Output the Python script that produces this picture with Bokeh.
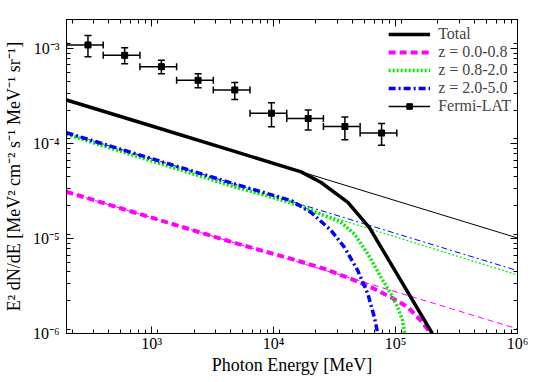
import math
from bokeh.plotting import figure
from bokeh.models import (LogAxis, LogTicker, CustomJSTickFormatter, Legend,
                          LegendItem, Range1d)
from bokeh.embed import file_html
from bokeh.resources import INLINE

# ---------------- data ----------------
# Fermi-LAT measurements
fermi_E = [300, 600, 1200, 2400, 4800, 9600, 19200, 38400, 76800]
fermi_E_lo = [200, 400, 800, 1600, 3200, 6400, 12800, 25600, 51200]
fermi_E_hi = [400, 800, 1600, 3200, 6400, 12800, 25600, 51200, 102400]
fermi_F = [1.08e-3, 8.4e-4, 6.38e-4, 4.59e-4, 3.63e-4, 2.07e-4, 1.82e-4, 1.50e-4, 1.28e-4]
fermi_F_hi = [1.36e-3, 1.01e-3, 7.45e-4, 5.38e-4, 4.34e-4, 2.67e-4, 2.24e-4, 1.89e-4, 1.61e-4]
fermi_F_lo = [8.1e-4, 6.86e-4, 5.38e-4, 3.84e-4, 2.88e-4, 1.49e-4, 1.38e-4, 1.09e-4, 9.55e-5]

# Total (with EBL absorption)
total_E = [200, 1000, 5000, 16800, 24500, 40600, 61000, 200000]
total_F = [2.85e-4, 1.52e-4, 8.07e-5, 5.0e-5, 3.87e-5, 2.39e-5, 1.30e-5, 1.0e-6]

# z = 0.0-0.8
z0_E = [200, 1000, 5000, 14000, 26100, 43200, 63000, 91600, 126000, 161000, 195000]
z0_F = [3.09e-5, 1.65e-5, 8.81e-6, 6.08e-6, 4.78e-6, 3.75e-6, 3.06e-6, 2.40e-6, 1.89e-6, 1.37e-6, 1.0e-6]

# z = 0.8-2.0
z1_E = [200, 1000, 5000, 14000, 24500, 35800, 46000, 59200, 76000, 91600, 104000, 114000, 119000]
z1_F = [1.24e-4, 6.5e-5, 3.42e-5, 2.39e-5, 1.80e-5, 1.47e-5, 1.11e-5, 6.86e-6, 3.90e-6, 2.61e-6, 1.89e-6, 1.37e-6, 1.0e-6]

# z = 2.0-5.0
z2_E = [200, 1000, 5000, 14000, 20300, 29600, 38100, 49000, 59200, 67000, 71400]
z2_F = [1.29e-4, 6.89e-5, 3.67e-5, 2.49e-5, 1.87e-5, 1.21e-5, 8.05e-6, 4.58e-6, 2.61e-6, 1.48e-6, 1.0e-6]

# unabsorbed (thin) spectra
thin_E = [200, 1e6]
total_thin_F = [2.85e-4, 1.01e-5]
z0_thin_F = [3.09e-5, 1.12e-6]
z1_thin_F = [1.24e-4, 4.13e-6]
z2_thin_F = [1.29e-4, 4.58e-6]

legend_labels = ["Total", "z = 0.0-0.8", "z = 0.8-2.0", "z = 2.0-5.0", "Fermi-LAT"]

FONT = "'Liberation Serif', 'Times New Roman', serif"
MAGENTA = "#ff00ff"
GREEN = "#00ee00"
BLUE = "#0000ff"

# ---------------- figure ----------------
p = figure(width=545, height=382, x_axis_type="log", y_axis_type="log",
           x_range=Range1d(200, 1e6), y_range=Range1d(1e-6, 2e-3),
           output_backend="svg", toolbar_location=None,
           min_border_left=65, min_border_right=28, min_border_top=19,
           min_border_bottom=49)
p.grid.visible = False
p.outline_line_color = "black"
p.outline_line_width = 1
p.background_fill_color = "white"
p.border_fill_color = "white"

sup_code = """
const sup = {"0":"\u2070","1":"\u00b9","2":"\u00b2","3":"\u00b3","4":"\u2074",
             "5":"\u2075","6":"\u2076","7":"\u2077","8":"\u2078","9":"\u2079","-":"\u207b"};
const e = Math.round(Math.log10(tick));
return "10" + String(e).split("").map(c => sup[c]).join("");
"""


def style_axis(ax, show_labels=True):
    ax.ticker = LogTicker(num_minor_ticks=9)
    ax.major_tick_in = 7
    ax.major_tick_out = 0
    ax.minor_tick_in = 4
    ax.minor_tick_out = 0
    ax.axis_line_color = "black"
    ax.major_tick_line_color = "black"
    ax.minor_tick_line_color = "black"
    if show_labels:
        ax.formatter = CustomJSTickFormatter(code=sup_code)
        ax.major_label_text_font = FONT
        ax.major_label_text_font_size = "16px"
        ax.major_label_text_color = "black"
        ax.axis_label_text_font = FONT
        ax.axis_label_text_font_size = "18px"
        ax.axis_label_text_font_style = "normal"
        ax.axis_label_text_color = "black"
    else:
        ax.major_label_text_font_size = "1px"
        ax.major_label_text_alpha = 0
        ax.major_label_standoff = 0


style_axis(p.xaxis[0])
style_axis(p.yaxis[0])
p.xaxis[0].axis_label = "Photon Energy [MeV]"
p.xaxis[0].major_label_standoff = 1
p.xaxis[0].axis_label_standoff = 0
p.yaxis[0].axis_label = "E\u00b2 dN/dE [MeV\u00b2 cm\u207b\u00b2 s\u207b\u00b9 MeV\u207b\u00b9 sr\u207b\u00b9]"
p.yaxis[0].major_label_standoff = 7
p.yaxis[0].axis_label_standoff = 6

top_ax = LogAxis()
style_axis(top_ax, show_labels=False)
p.add_layout(top_ax, "above")
right_ax = LogAxis()
style_axis(right_ax, show_labels=False)
p.add_layout(right_ax, "right")

# thin unabsorbed lines
p.line(thin_E, total_thin_F, line_color="black", line_width=1)
p.line(thin_E, z0_thin_F, line_color=MAGENTA, line_width=1, line_dash="6 4")
p.line(thin_E, z1_thin_F, line_color=GREEN, line_width=1.2, line_dash="2 2")
p.line(thin_E, z2_thin_F, line_color=BLUE, line_width=1, line_dash="6 3 2 3")

# thick absorbed lines
r_z0 = p.line(z0_E, z0_F, line_color=MAGENTA, line_width=4, line_dash="7 4")
r_z1 = p.line(z1_E, z1_F, line_color=GREEN, line_width=3.5, line_dash="2 2")
r_z2 = p.line(z2_E, z2_F, line_color=BLUE, line_width=3.5, line_dash="7 3 2 3")
r_tot = p.line(total_E, total_F, line_color="black", line_width=3.5)

# Fermi-LAT points with error bars
fy = fermi_F
r_h = p.segment(x0=fermi_E_lo, y0=fy, x1=fermi_E_hi, y1=fy, line_color="black", line_width=1.5)
p.segment(x0=fermi_E, y0=fermi_F_lo, x1=fermi_E, y1=fermi_F_hi, line_color="black", line_width=1.5)
p.scatter(fermi_E, fermi_F_hi, marker="dash", size=7, line_color="black", line_width=1.5)
p.scatter(fermi_E, fermi_F_lo, marker="dash", size=7, line_color="black", line_width=1.5)
p.scatter(fermi_E_lo, fy, marker="dash", angle=math.pi / 2, size=7, line_color="black", line_width=1.5)
p.scatter(fermi_E_hi, fy, marker="dash", angle=math.pi / 2, size=7, line_color="black", line_width=1.5)
r_pt = p.scatter(fermi_E, fermi_F, marker="square", size=6, color="black")

legend = Legend(items=[
    LegendItem(label=legend_labels[0], renderers=[r_tot]),
    LegendItem(label=legend_labels[1], renderers=[r_z0]),
    LegendItem(label=legend_labels[2], renderers=[r_z1]),
    LegendItem(label=legend_labels[3], renderers=[r_z2]),
    LegendItem(label=legend_labels[4], renderers=[r_h, r_pt]),
], location="top_right")
legend.border_line_color = None
legend.background_fill_alpha = 0
legend.label_text_font = "serif"
legend.label_text_font_size = "16px"
legend.label_text_line_height = 0.75
legend.glyph_width = 42
legend.glyph_height = 14
legend.label_height = 14
legend.label_standoff = 8
legend.spacing = 0
legend.padding = 2
legend.margin = 6
p.add_layout(legend)

open("out.html", "w").write(file_html(p, INLINE))
